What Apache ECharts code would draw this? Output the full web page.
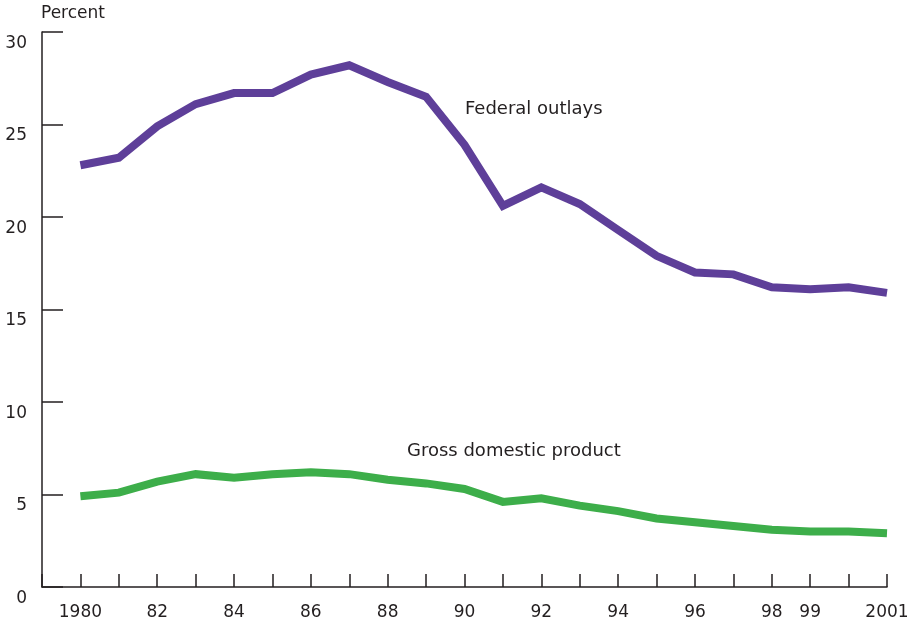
<!DOCTYPE html>
<html>
<head>
<meta charset="utf-8">
<script src="https://cdn.jsdelivr.net/npm/echarts@6/dist/echarts.min.js"></script>
<style>html,body{margin:0;padding:0;background:#fff;}#c{width:914px;height:623px;}</style>
</head>
<body>
<div id="c"></div>
<script>
var years = [1980,1981,1982,1983,1984,1985,1986,1987,1988,1989,1990,1991,1992,1993,1994,1995,1996,1997,1998,1999,2000,2001];
var federalOutlays = [22.8,23.2,24.9,26.1,26.7,26.7,27.7,28.2,27.3,26.5,23.9,20.6,21.6,20.7,19.3,17.9,17.0,16.9,16.2,16.1,16.2,15.9];
var grossDomesticProduct = [4.9,5.1,5.7,6.1,5.9,6.1,6.2,6.1,5.8,5.6,5.3,4.6,4.8,4.4,4.1,3.7,3.5,3.3,3.1,3.0,3.0,2.9];
var xTickLabels = {1980:'1980',1982:'82',1984:'84',1986:'86',1988:'88',1990:'90',1992:'92',1994:'94',1996:'96',1998:'98',1999:'99',2001:'2001'};
var seriesNames = ['Federal outlays','Gross domestic product'];
var yAxisTitle = 'Percent';

function pairs(vals){ return years.map(function(y,i){ return [y, vals[i]]; }); }

var FONT = 'DejaVu Sans';
var TXT = '#231f20';
var chart = echarts.init(document.getElementById('c'), null, {renderer:'canvas'});
chart.setOption({
  animation: false,
  backgroundColor: '#fff',
  grid: {left: 42, right: 27, top: 32, bottom: 36, containLabel: false},
  xAxis: {
    type: 'value', min: 1979, max: 2001, interval: 1,
    axisLine: {show: true, lineStyle: {color: TXT, width: 1.5}},
    axisTick: {show: true, inside: true, length: 13, lineStyle: {color: TXT, width: 1.5}},
    splitLine: {show: false},
    axisLabel: {
      show: true, margin: 17, color: TXT, fontFamily: FONT, fontSize: 17,
      showMinLabel: true, showMaxLabel: true,
      formatter: function(v){ return xTickLabels[v] || ''; }
    }
  },
  yAxis: {
    type: 'value', min: 0, max: 30, interval: 5,
    name: yAxisTitle, nameLocation: 'end', nameGap: 10,
    nameTextStyle: {color: TXT, fontFamily: FONT, fontSize: 17, align: 'left', padding: [0,0,0,-1]},
    axisLine: {show: true, lineStyle: {color: TXT, width: 1.5}},
    axisTick: {show: true, inside: true, length: 21, lineStyle: {color: TXT, width: 1.5}},
    splitLine: {show: false},
    axisLabel: {show: true, margin: 15, color: TXT, fontFamily: FONT, fontSize: 17, verticalAlign: 'top', padding: [3,0,0,0]}
  },
  series: [
    {name: seriesNames[0], type: 'line', data: pairs(federalOutlays), showSymbol: false, symbol: 'none',
     lineStyle: {color: '#5e3f99', width: 8, cap: 'butt', join: 'miter'}},
    {name: seriesNames[1], type: 'line', data: pairs(grossDomesticProduct), showSymbol: false, symbol: 'none',
     lineStyle: {color: '#3dae4a', width: 8, cap: 'butt', join: 'miter'}}
  ],
  graphic: [
    {type: 'text', left: 465, top: 100, style: {text: seriesNames[0], fill: TXT, font: '18px "' + FONT + '"'}},
    {type: 'text', left: 407, top: 442, style: {text: seriesNames[1], fill: TXT, font: '18px "' + FONT + '"'}}
  ]
});
</script>
</body>
</html>
